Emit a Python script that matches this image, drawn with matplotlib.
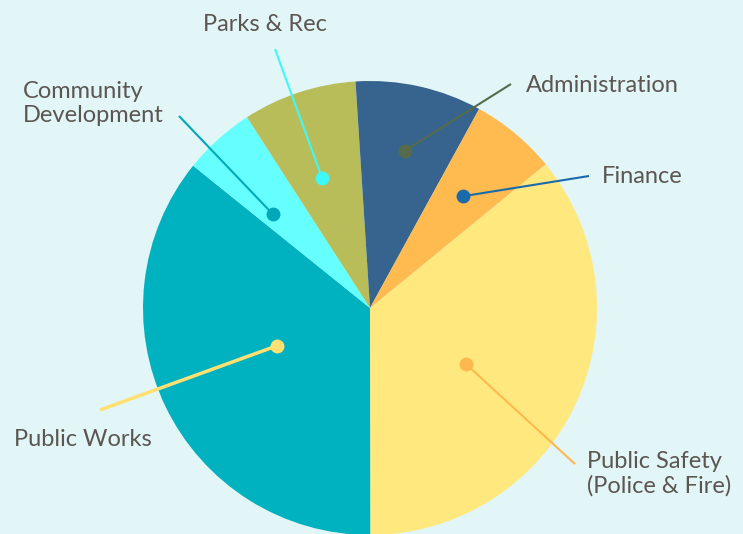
import numpy as np
import matplotlib.pyplot as plt

# budget share by department (percent)
departments = ["Public Safety\n(Police & Fire)", "Public Works", "Community\nDevelopment",
               "Parks & Rec", "Administration", "Finance"]
shares = [35.9, 35.8, 5.1, 8.1, 9.0, 6.1]
slice_colors = ["#FFE97F", "#00B2C0", "#66FFFF", "#B8BD5A", "#36648F", "#FFBA50"]
dot_colors = ["#FFB84D", "#FFE070", "#00A8B8", "#40F8F8", "#556B4A", "#1B6AAB"]

# layout of the callouts (pixels, y measured from the top)
W, H = 743, 534
cx, cy, R = 370, 308, 227
dot_frac = [0.49, 0.44, 0.595, 0.61, 0.71, 0.64]
dot_shift = [5, 3.5, -4, -2, 0, 0]  # degrees clockwise from the slice middle
line_end = [(575, 464), (100, 410), (179, 116), (275, 49), (511, 84), (589, 176)]
# x and baseline of the last text line
label_pos = [(587, 493), (14, 446), (23, 122), (203, 31), (526, 92), (602, 183)]
line_w = [1.5, 2.5, 1.5, 1.5, 1.5, 1.5]

bg = "#E2F5F7"
text_col = "#5B5652"

fig = plt.figure(figsize=(W / 100, H / 100), dpi=100, facecolor=bg)
ax = fig.add_axes([0, 0, 1, 1])
ax.set_facecolor(bg)

wedges, _ = ax.pie(shares, colors=slice_colors, startangle=39.3, counterclock=False,
                   center=(cx, H - cy), radius=R, frame=True,
                   wedgeprops=dict(linewidth=0))
ax.set_xlim(0, W)
ax.set_ylim(0, H)
ax.set_aspect("equal")
ax.axis("off")

for w, f, sh, col, end, pos, lw, name in zip(wedges, dot_frac, dot_shift, dot_colors,
                                             line_end, label_pos, line_w, departments):
    mid = np.deg2rad((w.theta1 + w.theta2) / 2 - sh)
    dx = cx + f * R * np.cos(mid)
    dy = (H - cy) + f * R * np.sin(mid)
    ax.plot([dx, end[0]], [dy, H - end[1]], color=col, lw=lw, solid_capstyle="butt", zorder=3)
    ax.plot(dx, dy, "o", color=col, markersize=10, markeredgewidth=0, zorder=4)
    ax.text(pos[0], H - pos[1], name, fontsize=17, family="Lato", color=text_col,
            ha="left", va="baseline", linespacing=1.2)

fig.savefig("out.png", dpi=100, facecolor=bg)
